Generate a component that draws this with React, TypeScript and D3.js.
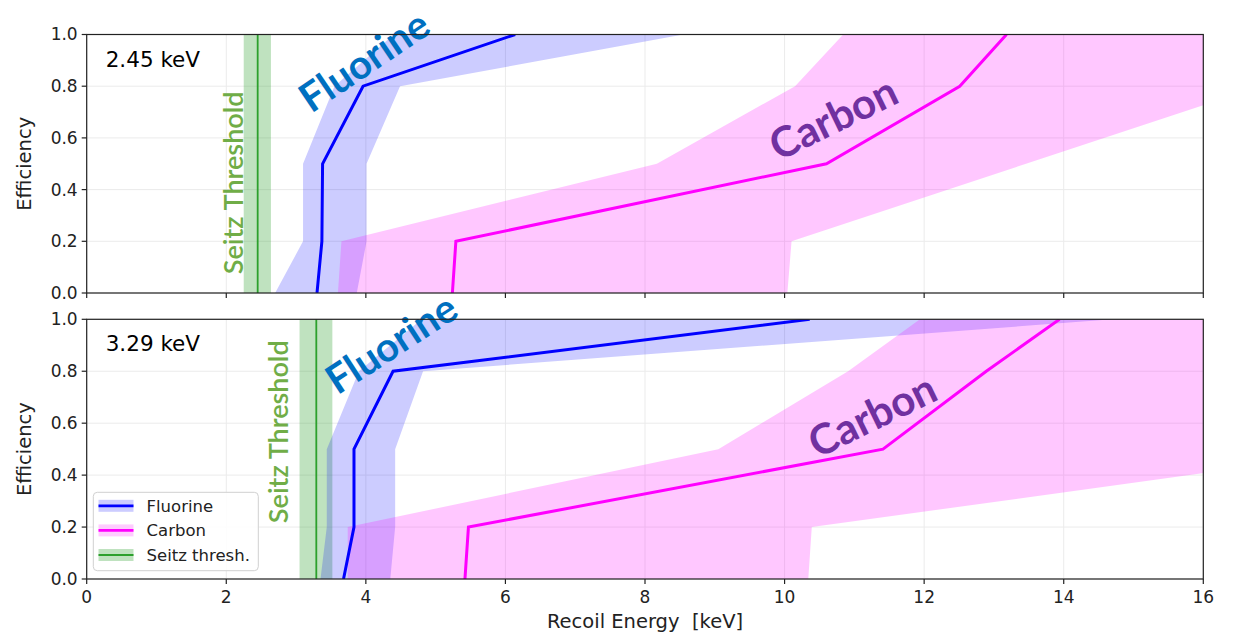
import React from "react";
import * as d3 from "d3";

// Efficiency levels at which the curves were sampled
const effLevels = [0, 0.2, 0.5, 0.8, 1.0];

// Panel 1: 2.45 keV threshold
const fluorineLine245 = [3.3, 3.37, 3.38, 3.96, 6.14];
const fluorineLow245 = [2.7, 3.1, 3.1, 3.55, 4.4];
const fluorineHigh245 = [3.87, 4.01, 4.01, 4.49, 8.55];
const carbonLine245 = [5.24, 5.29, 10.6, 12.51, 13.18];
const carbonLow245 = [3.6, 3.65, 8.17, 10.15, 10.84];
const carbonHigh245 = [10.04, 10.1, 13.46, 16.82, 19.1];
const seitz245 = { center: 2.45, low: 2.25, high: 2.64 };

// Panel 2: 3.29 keV threshold
const fluorineLine329 = [3.68, 3.83, 3.83, 4.39, 10.36];
const fluorineLow329 = [3.35, 3.44, 3.44, 3.9, 4.8];
const fluorineHigh329 = [4.35, 4.42, 4.42, 4.82, 14.7];
const carbonLine329 = [5.42, 5.47, 11.41, 12.89, 13.94];
const carbonLow329 = [3.74, 3.74, 9.05, 10.91, 11.94];
const carbonHigh329 = [10.34, 10.39, 18.5, 26.6, 32.0];
const seitz329 = { center: 3.29, low: 3.05, high: 3.52 };

const xTicks = [0, 2, 4, 6, 8, 10, 12, 14, 16];
const yTicks = [0, 0.2, 0.4, 0.6, 0.8, 1.0];
const legendLabels = ["Fluorine", "Carbon", "Seitz thresh."];

const panels = [
  {
    id: "p1",
    label: "2.45 keV",
    fl: fluorineLine245, flLo: fluorineLow245, flHi: fluorineHigh245,
    cl: carbonLine245, clLo: carbonLow245, clHi: carbonHigh245,
    seitz: seitz245,
    top: 34.5, bottom: 293,
    seitzText: { x: 2.235, y: 0.426 },
    fText: { x: 3.97, y: 0.9, a: -34 },
    cText: { x: 10.69, y: 0.68, a: -26 },
    showXLabels: false,
    legend: false,
  },
  {
    id: "p2",
    label: "3.29 keV",
    fl: fluorineLine329, flLo: fluorineLow329, flHi: fluorineHigh329,
    cl: carbonLine329, clLo: carbonLow329, clHi: carbonHigh329,
    seitz: seitz329,
    top: 319.3, bottom: 579,
    seitzText: { x: 2.89, y: 0.567 },
    fText: { x: 4.36, y: 0.909, a: -33 },
    cText: { x: 11.25, y: 0.634, a: -26 },
    showXLabels: true,
    legend: true,
  },
];

const LEFT = 86.7;
const RIGHT = 1203.3;
const FONT = "'DejaVu Sans', sans-serif";
const ANNOT = "Lato, 'Open Sans', sans-serif";

function Panel({ p }: { p: any }) {
  const x = d3.scaleLinear().domain([0, 16]).range([LEFT, RIGHT]);
  const y = d3.scaleLinear().domain([0, 1]).range([p.bottom, p.top]);
  const idx = d3.range(effLevels.length);
  const band = (lo: number[], hi: number[]) =>
    d3.area<number>()
      .y((i) => y(effLevels[i]))
      .x0((i) => x(lo[i]))
      .x1((i) => x(hi[i]))(idx) as string;
  const line = (v: number[]) =>
    d3.line<number>()
      .x((i) => x(v[i]))
      .y((i) => y(effLevels[i]))(idx) as string;
  const clipId = "clip-" + p.id;
  return (
    <g>
      <defs>
        <clipPath id={clipId}>
          <rect x={LEFT} y={p.top} width={RIGHT - LEFT} height={p.bottom - p.top} />
        </clipPath>
      </defs>
      {/* grid */}
      {xTicks.map((t) => (
        <line key={"gx" + t} x1={x(t)} x2={x(t)} y1={p.top} y2={p.bottom} stroke="#ebebeb" strokeWidth={1} />
      ))}
      {yTicks.map((t) => (
        <line key={"gy" + t} x1={LEFT} x2={RIGHT} y1={y(t)} y2={y(t)} stroke="#ebebeb" strokeWidth={1} />
      ))}
      <g clipPath={`url(#${clipId})`}>
        <rect
          x={x(p.seitz.low)} y={p.top}
          width={x(p.seitz.high) - x(p.seitz.low)} height={p.bottom - p.top}
          fill="#2ca02c" fillOpacity={0.3}
        />
        <line x1={x(p.seitz.center)} x2={x(p.seitz.center)} y1={p.top} y2={p.bottom} stroke="#2ca02c" strokeWidth={1.8} />
        <path d={band(p.flLo, p.flHi)} fill="#0000ff" fillOpacity={0.2} />
        <path d={band(p.clLo, p.clHi)} fill="#ff00ff" fillOpacity={0.22} />
        <path d={line(p.fl)} fill="none" stroke="#0000ff" strokeWidth={3} />
        <path d={line(p.cl)} fill="none" stroke="#ff00ff" strokeWidth={3} />
      </g>
      {/* annotations */}
      <text
        transform={`translate(${x(p.seitzText.x)},${y(p.seitzText.y)}) rotate(-90)`}
        textAnchor="middle" fontFamily={ANNOT} fontSize={27} fontWeight={600} fill="#70AD47"
      >Seitz Threshold</text>
      <text
        transform={`translate(${x(p.fText.x)},${y(p.fText.y)}) rotate(${p.fText.a})`}
        textAnchor="middle" dominantBaseline="central" fontFamily={ANNOT} fontSize={40} fontWeight={700} fill="#0070C0"
      >Fluorine</text>
      <text
        transform={`translate(${x(p.cText.x)},${y(p.cText.y)}) rotate(${p.cText.a})`}
        textAnchor="middle" dominantBaseline="central" fontFamily={ANNOT} fontSize={42} fontWeight={700} fill="#7030A0"
      >Carbon</text>
      <text x={LEFT + 19} y={p.top + 32} fontFamily={FONT} fontSize={21.5} fill="#000">{p.label}</text>
      {/* frame */}
      <rect x={LEFT} y={p.top} width={RIGHT - LEFT} height={p.bottom - p.top} fill="none" stroke="#222" strokeWidth={1.2} />
      {/* ticks */}
      {yTicks.map((t) => (
        <g key={"ty" + t}>
          <line x1={LEFT - 5} x2={LEFT} y1={y(t)} y2={y(t)} stroke="#222" strokeWidth={1.2} />
          <text x={LEFT - 9} y={y(t)} dy="0.35em" textAnchor="end" fontFamily={FONT} fontSize={17} fill="#222">
            {d3.format(".1f")(t)}
          </text>
        </g>
      ))}
      {xTicks.map((t) => (
        <g key={"tx" + t}>
          <line x1={x(t)} x2={x(t)} y1={p.bottom} y2={p.bottom + 5} stroke="#222" strokeWidth={1.2} />
          {p.showXLabels && (
            <text x={x(t)} y={p.bottom + 24} textAnchor="middle" fontFamily={FONT} fontSize={17} fill="#222">
              {t}
            </text>
          )}
        </g>
      ))}
      <text
        transform={`translate(31,${(p.top + p.bottom) / 2}) rotate(-90)`}
        textAnchor="middle" fontFamily={FONT} fontSize={19.5} fill="#222"
      >Efficiency</text>
      {p.legend && <Legend />}
    </g>
  );
}

function Legend() {
  const colors = ["#0000ff", "#ff00ff", "#2ca02c"];
  const alphas = [0.2, 0.2, 0.3];
  const x0 = 93.3, y0 = 492.3;
  return (
    <g>
      <rect x={x0} y={y0} width={165} height={78.4} rx={4} fill="#fff" fillOpacity={0.85} stroke="#d0d0d0" strokeWidth={1} />
      {legendLabels.map((lab, i) => {
        const cy = y0 + 13.5 + i * 24.6;
        return (
          <g key={lab}>
            <rect x={98.5} y={cy - 6} width={35} height={12} fill={colors[i]} fillOpacity={alphas[i]} />
            <line x1={98.5} x2={133.5} y1={cy} y2={cy} stroke={colors[i]} strokeWidth={i === 2 ? 2 : 2.8} />
            <text x={146.5} y={cy} dy="0.36em" fontFamily={FONT} fontSize={16.5} fill="#222">{lab}</text>
          </g>
        );
      })}
    </g>
  );
}

export default function App() {
  return (
    <svg
      width={1240}
      height={636}
      style={{ position: "absolute", left: 0, top: 0, background: "#fff" }}
    >
      {panels.map((p) => (
        <Panel key={p.id} p={p} />
      ))}
      <text
        x={(LEFT + RIGHT) / 2}
        y={628}
        textAnchor="middle"
        fontFamily={FONT}
        fontSize={19.5}
        fill="#222"
        style={{ whiteSpace: "pre" }}
      >
        {"Recoil Energy  [keV]"}
      </text>
    </svg>
  );
}
